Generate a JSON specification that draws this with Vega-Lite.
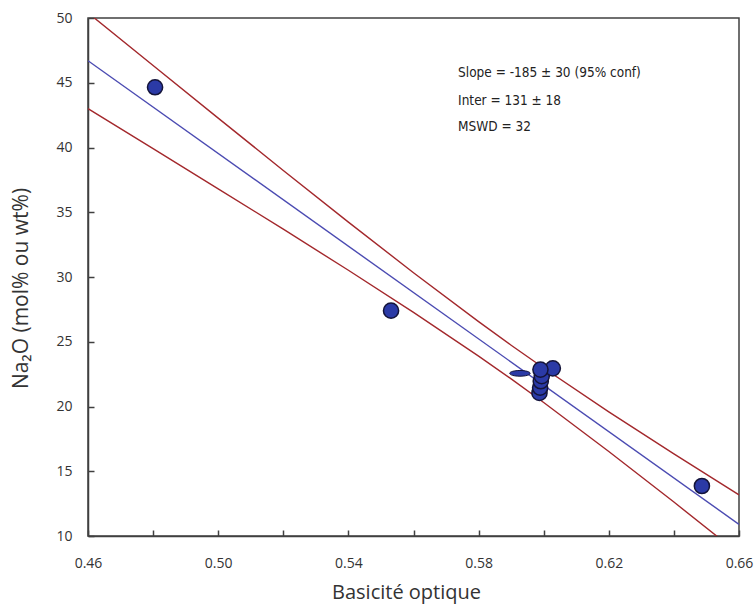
{
  "$schema": "https://vega.github.io/schema/vega-lite/v6.json",
  "width": 651,
  "height": 518,
  "autosize": "none",
  "padding": {"left": 88, "top": 18, "right": 16, "bottom": 74},
  "background": "white",
  "config": {
    "view": {"stroke": "#404040", "strokeWidth": 1.5},
    "axis": {
      "grid": false,
      "zindex": 1,
      "domainColor": "#404040",
      "domainWidth": 1.5,
      "tickColor": "#404040",
      "tickWidth": 1.5,
      "labelFont": "Open Sans",
      "labelFontSize": 14,
      "labelColor": "#333333",
      "titleFont": "Open Sans",
      "titleFontSize": 20,
      "titleFontWeight": "normal",
      "titleColor": "#333333"
    }
  },
  "datasets": {
    "lines": [
      {"series": "upper", "x": 0.46, "y": 50.40}, {"series": "upper", "x": 0.48, "y": 46.33}, {"series": "upper", "x": 0.50, "y": 42.27}, {"series": "upper", "x": 0.52, "y": 38.23}, {"series": "upper", "x": 0.54, "y": 34.24}, {"series": "upper", "x": 0.56, "y": 30.33}, {"series": "upper", "x": 0.58, "y": 26.55}, {"series": "upper", "x": 0.59, "y": 24.73}, {"series": "upper", "x": 0.60, "y": 22.97}, {"series": "upper", "x": 0.62, "y": 19.59}, {"series": "upper", "x": 0.64, "y": 16.34}, {"series": "upper", "x": 0.66, "y": 13.17},
      {"series": "fit", "x": 0.46, "y": 46.70}, {"series": "fit", "x": 0.66, "y": 10.90},
      {"series": "lower", "x": 0.46, "y": 43.00}, {"series": "lower", "x": 0.48, "y": 39.91}, {"series": "lower", "x": 0.50, "y": 36.81}, {"series": "lower", "x": 0.52, "y": 33.69}, {"series": "lower", "x": 0.54, "y": 30.52}, {"series": "lower", "x": 0.56, "y": 27.27}, {"series": "lower", "x": 0.58, "y": 23.89}, {"series": "lower", "x": 0.59, "y": 22.13}, {"series": "lower", "x": 0.60, "y": 20.31}, {"series": "lower", "x": 0.62, "y": 16.53}, {"series": "lower", "x": 0.64, "y": 12.62}, {"series": "lower", "x": 0.66, "y": 8.63}
    ],
    "points": [
      {"x": 0.4806, "y": 44.65},
      {"x": 0.5531, "y": 27.40},
      {"x": 0.6486, "y": 13.86},
      {"x": 0.5987, "y": 21.05},
      {"x": 0.5989, "y": 21.45},
      {"x": 0.5991, "y": 21.95},
      {"x": 0.5994, "y": 22.35},
      {"x": 0.6028, "y": 22.95},
      {"x": 0.5990, "y": 22.85}
    ],
    "ellipses": [
      {"x": 0.5927, "y": 22.56}
    ],
    "notes": [
      {"x": 0.5737, "y": 45.75, "label": "Slope = -185 ± 30 (95% conf)"},
      {"x": 0.5737, "y": 43.59, "label": "Inter = 131 ± 18"},
      {"x": 0.5737, "y": 41.58, "label": "MSWD = 32"}
    ]
  },
  "layer": [
    {
      "data": {"name": "lines"},
      "mark": {"type": "line", "clip": true, "strokeWidth": 1.4},
      "encoding": {
        "x": {
          "field": "x", "type": "quantitative",
          "scale": {"domain": [0.46, 0.66], "zero": false, "nice": false},
          "axis": {
            "values": [0.46, 0.48, 0.50, 0.52, 0.54, 0.56, 0.58, 0.60, 0.62, 0.64, 0.66],
            "labelExpr": "round(datum.value*100) % 4 == 2 ? format(datum.value, '.2f') : ''",
            "tickSize": -6,
            "labelPadding": 26,
            "labelFlush": false,
            "title": "Basicité optique",
            "titlePadding": 12,
            "titleX": 318
          }
        },
        "y": {
          "field": "y", "type": "quantitative",
          "scale": {"domain": [10, 50], "zero": false, "nice": false},
          "axis": {
            "values": [10, 15, 20, 25, 30, 35, 40, 45, 50],
            "tickSize": -6,
            "labelPadding": 22,
            "labelFlush": false,
            "title": "Na₂O (mol% ou wt%)",
            "titleFontSize": 21,
            "titlePadding": 24,
            "titleY": 270
          }
        },
        "color": {
          "field": "series", "type": "nominal",
          "scale": {"domain": ["upper", "fit", "lower"], "range": ["#a3282c", "#4b4bb2", "#a3282c"]},
          "legend": null
        }
      }
    },
    {
      "data": {"name": "ellipses"},
      "mark": {"type": "point", "filled": true, "shape": "M -1 0 A 1 0.28 0 1 0 1 0 A 1 0.28 0 1 0 -1 0 Z", "size": 420, "fill": "#2b3aa6", "stroke": "#14143a", "strokeWidth": 1, "opacity": 1},
      "encoding": {
        "x": {"field": "x", "type": "quantitative"},
        "y": {"field": "y", "type": "quantitative"}
      }
    },
    {
      "data": {"name": "points"},
      "mark": {"type": "point", "filled": true, "shape": "circle", "size": 230, "fill": "#2b3aa6", "stroke": "#14143a", "strokeWidth": 1.5, "opacity": 1},
      "encoding": {
        "x": {"field": "x", "type": "quantitative"},
        "y": {"field": "y", "type": "quantitative"}
      }
    },
    {
      "data": {"name": "notes"},
      "mark": {"type": "text", "align": "left", "baseline": "middle", "font": "DejaVu Sans Condensed", "fontSize": 13.5, "color": "#222222"},
      "encoding": {
        "x": {"field": "x", "type": "quantitative"},
        "y": {"field": "y", "type": "quantitative"},
        "text": {"field": "label", "type": "nominal"}
      }
    }
  ]
}
